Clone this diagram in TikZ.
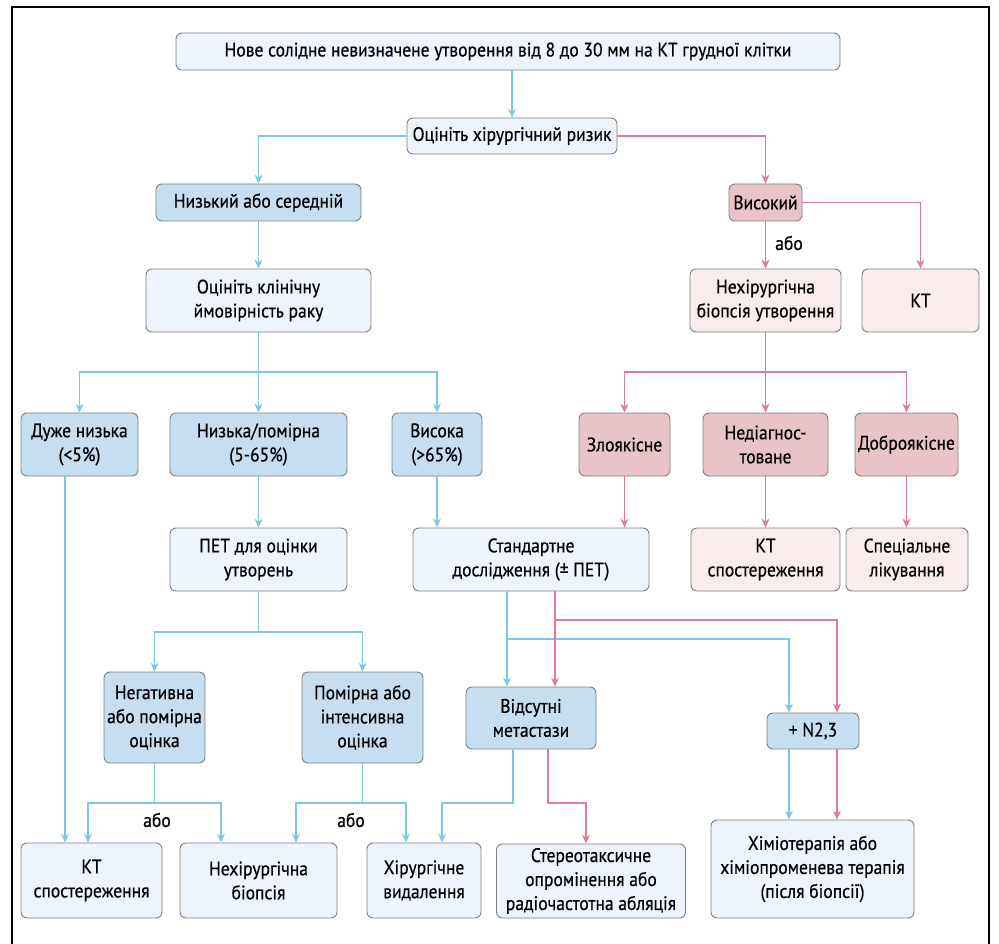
\documentclass[tikz,border=0pt]{standalone}
\usepackage{fontspec}
\setmainfont{PT Sans}[FakeStretch=0.9,FakeBold=0.5]
\usetikzlibrary{arrows.meta}
\definecolor{lineblue}{RGB}{126,200,227}
\definecolor{linepink}{RGB}{224,122,156}
\definecolor{fillwhite}{RGB}{238,244,251}
\definecolor{fillblue}{RGB}{197,223,241}
\definecolor{fillpink}{RGB}{234,195,201}
\definecolor{filllpink}{RGB}{248,236,237}
\definecolor{edge}{RGB}{128,128,128}

\begin{document}
\begin{tikzpicture}[x=1pt,y=-1pt,
    box/.style={draw=edge,line width=0.9pt,rounded corners=6pt,align=center,inner sep=2pt,
        font=\fontsize{19.5}{24}\selectfont},
    wbox/.style={box,fill=fillwhite},
    bbox/.style={box,fill=fillblue},
    pbox/.style={box,fill=fillpink},
    lpbox/.style={box,fill=filllpink},
    bl/.style={draw=lineblue,line width=1.1pt,-{Stealth[length=9pt,width=8pt,inset=3pt]}},
    pk/.style={draw=linepink,line width=1.1pt,-{Stealth[length=9pt,width=8pt,inset=3pt]}},
    ili/.style={font=\fontsize{19.5}{24}\selectfont}]
    \useasboundingbox[fill=white] (0,0) rectangle (999,944);
    \draw[line width=1.3pt] (12,950) -- (12,7) -- (989,7) -- (989,950);

    % nodes
    \node[wbox,minimum width=664,minimum height=37] (new) at (508,51.5) {Нове солідне невизначене утворення від 8 до 30 мм на КТ грудної клітки};
    \node[wbox,minimum width=210,minimum height=36] (risk) at (512,136) {Оцініть хірургічний ризик};
    \node[bbox,minimum width=205,minimum height=37] (low) at (258.5,202.5) {Низький або середній};
    \node[pbox,minimum width=73,minimum height=37] (high) at (765.5,202.5) {Високий};
    \node[wbox,minimum width=225,minimum height=63] (clin) at (258.5,300.5) {Оцініть клінічну\\ймовірність раку};
    \node[lpbox,minimum width=151,minimum height=63] (nbio) at (765.5,300.5) {Нехірургічна\\біопсія утворення};
    \node[lpbox,minimum width=117,minimum height=63] (kt) at (920.5,300.5) {КТ};
    \node[bbox,minimum width=117,minimum height=63] (vlow) at (79.5,444.5) {Дуже низька\\(<5\%)};
    \node[bbox,minimum width=177,minimum height=63] (mid) at (258.5,444.5) {Низька/помірна\\(5-65\%)};
    \node[bbox,minimum width=90,minimum height=63] (hi) at (437,444.5) {Висока\\(>65\%)};
    \node[pbox,minimum width=91,minimum height=63] (malig) at (624.5,444.5) {Злоякісне};
    \node[pbox,minimum width=125,minimum height=63] (undiag) at (765.5,444.5) {Недіагнос-\\товане};
    \node[pbox,minimum width=103,minimum height=63] (benign) at (906.5,444.5) {Доброякісне};
    \node[wbox,minimum width=177,minimum height=63] (pet) at (258.5,559.5) {ПЕТ для оцінки\\утворень};
    \node[wbox,minimum width=236,minimum height=63] (std) at (531,559.5) {Стандартне\\дослідження (± ПЕТ)};
    \node[lpbox,minimum width=149,minimum height=63] (ktobsr) at (765.5,559.5) {КТ\\спостереження};
    \node[lpbox,minimum width=122,minimum height=63] (spec) at (907,559.5) {Спеціальне\\лікування};
    \node[bbox,minimum width=101,minimum height=91] (neg) at (154.5,717.5) {Негативна\\або помірна\\оцінка};
    \node[bbox,minimum width=121,minimum height=91] (modint) at (362.5,717.5) {Помірна або\\інтенсивна\\оцінка};
    \node[bbox,minimum width=130,minimum height=62] (absent) at (531,718) {Відсутні\\метастази};
    \node[bbox,minimum width=92,minimum height=36] (n23) at (813,731) {+ N2,3};
    \node[wbox,minimum width=141,minimum height=75] (ktobs) at (91.5,880.5) {КТ\\спостереження};
    \node[wbox,minimum width=157,minimum height=75] (nbiob) at (258.5,880.5) {Нехірургічна\\біопсія};
    \node[wbox,minimum width=114,minimum height=75] (surg) at (424,880.5) {Хірургічне\\видалення};
    \node[wbox,minimum width=189,minimum height=74] (stereo) at (591,881) {Стереотаксичне\\опромінення або\\радіочастотна абляція};
    \node[wbox,minimum width=203,minimum height=98] (chemo) at (812.5,869) {Хіміотерапія або\\хіміопроменева терапія\\(після біопсії)};

    \node[ili] (or1) at (789,243) {або};
    \node[ili] (or2) at (157,820) {або};
    \node[ili] (or3) at (351,820) {або};

    % branch points
    \coordinate (cb) at (258.5,372);
    \coordinate (pb) at (765.5,372);
    \coordinate (petb) at (258.5,632);
    \coordinate (negb) at (154.5,803);
    \coordinate (modb) at (362.5,803);
    \coordinate (sb) at (507,639);
    \coordinate (sp) at (555,620);
    \coordinate (ab) at (513,803);
    \coordinate (ap) at (548,803);

    % blue connectors
    \draw[bl] (new.south -| risk.north) -- (risk.north);
    \draw[bl] (risk.west) -| (low.north);
    \draw[bl] (low) -- (clin);
    \draw[bl] (clin.south) -- (mid.north);
    \draw[bl] (cb) -| (vlow.north);
    \draw[bl] (cb) -| (hi.north);
    \draw[bl] ([xshift=-14.5pt]vlow.south) -- ([xshift=-14.5pt]vlow.south |- ktobs.north);
    \draw[bl] (mid) -- (pet);
    \draw[bl] (hi.south) -- (hi.south |- std.north);
    \draw[bl] (pet.south) -- (petb) -| (neg.north);
    \draw[bl] (petb) -| (modint.north);
    \draw[bl] (neg.south) -- (negb) -| ([xshift=-3.5pt]ktobs.north);
    \draw[bl] (negb) -| ([xshift=-37.5pt]nbiob.north);
    \draw[bl] (modint.south) -- (modb) -| ([xshift=37.5pt]nbiob.north);
    \draw[bl] (modb) -| ([xshift=-18pt]surg.north);
    \draw[bl] ([xshift=-24pt]std.south) -- ([xshift=-24pt]absent.north);
    \draw[bl] (sb) -| ([xshift=-24pt]n23.north);
    \draw[bl] (ab |- absent.south) -- (ab) -| ([xshift=18pt]surg.north);
    \draw[bl] ([xshift=-24pt]n23.south) -- ([xshift=-24pt]n23.south |- chemo.north);

    % pink connectors
    \draw[pk] (risk.east) -| (high.north);
    \draw[pk] (high.east) -| (kt.north);
    \draw[pk] (high) -- (nbio);
    \draw[pk] (nbio.south) -- (undiag.north);
    \draw[pk] (pb) -| (malig.north);
    \draw[pk] (pb) -| (benign.north);
    \draw[pk] (malig.south) -- (malig.south |- std.north);
    \draw[pk] (undiag) -- (ktobsr);
    \draw[pk] (benign.south) -- (benign.south |- spec.north);
    \draw[pk] ([xshift=24pt]std.south) -- ([xshift=24pt]absent.north);
    \draw[pk] (sp) -| ([xshift=24pt]n23.north);
    \draw[pk] (ap |- absent.south) -- (ap) -| ([xshift=-5pt]stereo.north);
    \draw[pk] ([xshift=24pt]n23.south) -- ([xshift=24pt]n23.south |- chemo.north);
\end{tikzpicture}
\end{document}
